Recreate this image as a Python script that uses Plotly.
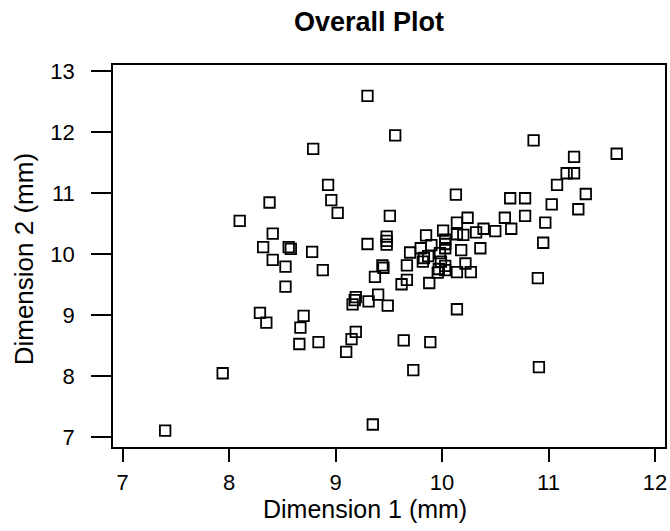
import plotly.graph_objects as go

# Dimension 1 (mm) and Dimension 2 (mm) values
dim1 = [7.40, 7.94, 8.10, 8.38, 8.41, 8.32, 8.56, 8.58, 8.78, 8.41,
        8.53, 8.88, 8.53, 8.29, 8.35, 8.70, 8.67, 8.66, 8.84, 8.79,
        8.93, 8.96, 9.02, 9.30, 9.56, 9.10, 9.15, 9.19, 9.16, 9.18,
        9.19, 9.31, 9.40, 9.49, 9.37, 9.44, 9.45, 9.30, 9.48, 9.48,
        9.48, 9.51, 9.35, 9.64, 9.89, 9.73, 9.62, 9.67, 9.67, 9.70,
        9.80, 9.82, 9.83, 9.87, 9.88, 9.85, 9.90, 9.96, 9.97, 9.98,
        9.99, 10.01, 10.03, 10.03, 10.03, 10.03, 10.03, 10.13, 10.14, 10.24,
        10.14, 10.20, 10.18, 10.14, 10.22, 10.27, 10.14, 10.32, 10.36, 10.39,
        10.50, 10.59, 10.65, 10.64, 10.78, 10.78, 10.86, 10.90, 10.91, 10.95,
        10.97, 11.03, 11.08, 11.17, 11.24, 11.24, 11.28, 11.35, 11.64]
dim2 = [7.11, 8.05, 10.55, 10.85, 10.34, 10.12, 10.12, 10.09, 10.04, 9.91,
        9.80, 9.74, 9.47, 9.04, 8.88, 8.99, 8.80, 8.53, 8.56, 11.73,
        11.14, 10.89, 10.68, 12.60, 11.95, 8.40, 8.61, 8.73, 9.18, 9.25,
        9.30, 9.23, 9.34, 9.16, 9.63, 9.82, 9.78, 10.17, 10.29, 10.22,
        10.16, 10.63, 7.21, 8.59, 8.56, 8.10, 9.51, 9.58, 9.82, 10.03,
        10.10, 9.88, 9.94, 9.97, 9.53, 10.31, 10.15, 9.70, 9.76, 10.02,
        9.88, 10.39, 10.24, 10.17, 10.10, 9.81, 9.74, 10.98, 10.52, 10.60,
        10.33, 10.32, 10.07, 9.71, 9.85, 9.71, 9.10, 10.36, 10.10, 10.42,
        10.38, 10.60, 10.42, 10.92, 10.92, 10.63, 11.87, 9.61, 8.15, 10.19,
        10.52, 10.82, 11.14, 11.33, 11.33, 11.60, 10.74, 10.99, 11.65]

x_ticks = [7, 8, 9, 10, 11, 12]
y_ticks = [7, 8, 9, 10, 11, 12, 13]

FONT = "Liberation Sans, Arial, sans-serif"

fig = go.Figure(go.Scatter(
    x=dim1, y=dim2, mode="markers",
    marker=dict(symbol="square-open", size=10.5, color="black",
                line=dict(width=1.8, color="black")),
    hoverinfo="x+y"))

axis_common = dict(showgrid=False, zeroline=False, showline=True,
                   linecolor="black", linewidth=1.5, mirror=True,
                   ticks="outside", tickcolor="black", tickwidth=1.5,
                   tickfont=dict(family=FONT, size=22, color="black"))

fig.update_layout(
    width=670, height=531,
    margin=dict(l=113, r=3, t=65, b=84),
    paper_bgcolor="white", plot_bgcolor="white",
    showlegend=False,
    title=dict(text="<b>Overall Plot</b>", x=369/670, y=1-22/531,
               xanchor="center", yanchor="middle", xref="container", yref="container",
               font=dict(family=FONT, size=27, color="black")),
    xaxis=dict(range=[6.910, 12.094], tickvals=x_ticks, ticklen=13,
               ticklabelstandoff=2, **axis_common),
    yaxis=dict(range=[6.841, 13.105], tickvals=y_ticks, ticklen=20,
               ticklabelstandoff=12, **axis_common),
    annotations=[
        dict(text="Dimension 1 (mm)", xref="paper", yref="paper",
             x=(366-113)/554, y=(447-509)/382, xanchor="center", yanchor="middle",
             showarrow=False, font=dict(family=FONT, size=25, color="black")),
        dict(text="Dimension 2 (mm)", xref="paper", yref="paper",
             x=(24-113)/554, y=(447-259)/382, xanchor="center", yanchor="middle",
             textangle=-90, showarrow=False,
             font=dict(family=FONT, size=26, color="black")),
    ],
)

fig.write_html("out.html", config={"displayModeBar": False},
               post_script="document.body.style.margin='0';document.body.style.overflow='hidden';")
